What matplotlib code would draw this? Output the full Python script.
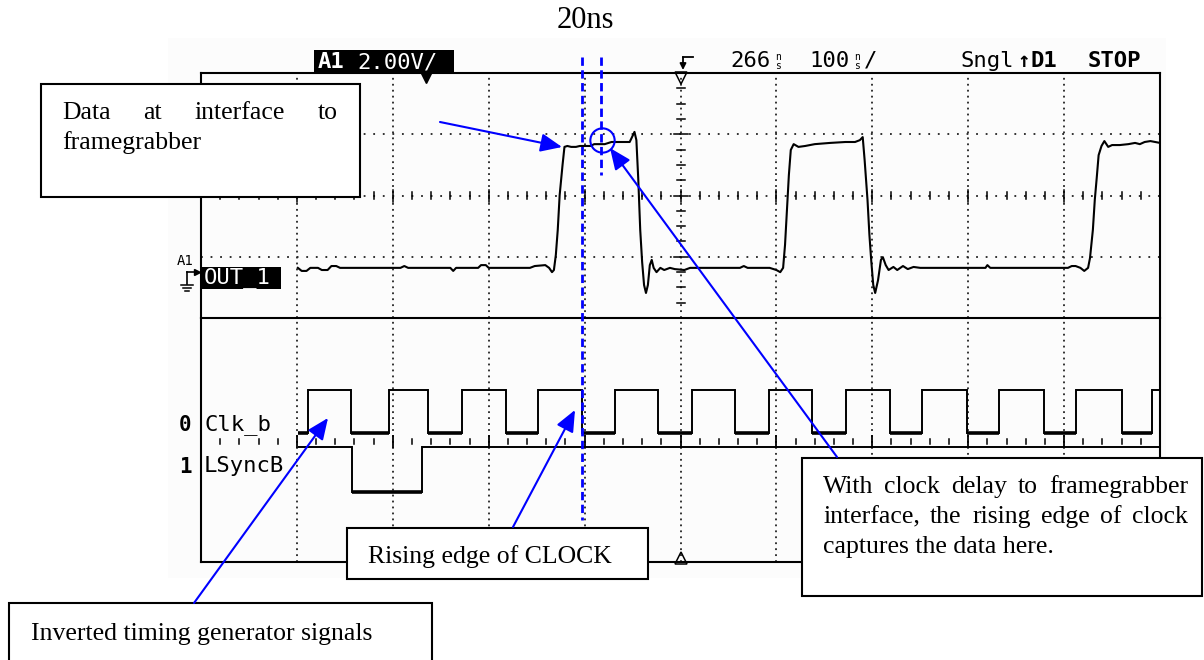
import matplotlib
matplotlib.use('Agg')
import matplotlib.pyplot as plt
from matplotlib.patches import Rectangle
from matplotlib.transforms import blended_transform_factory

# OUT_1 analog trace: time in ns from the left edge of the screen, level in volts
out1_t = [101, 105, 110, 114, 122, 126, 132, 136, 141, 145, 208, 212, 216, 260, 263, 266,
          289, 292, 297, 300, 343, 348, 359, 363, 366, 368, 370, 372, 374, 377, 379, 382,
          386, 391, 395, 406, 410, 421, 428, 447, 449, 452, 454, 456, 458, 460, 462, 464,
          466, 468, 470, 472, 475, 479, 483, 489, 494, 504, 510, 562, 566, 570, 593, 600,
          604, 607, 609, 611, 613, 615, 618, 623, 630, 640, 656, 672, 682, 687, 690, 692,
          695, 697, 699, 701, 703, 706, 709, 711, 714, 717, 722, 726, 732, 737, 743, 750,
          818, 820, 823, 904, 908, 912, 917, 921, 925, 927, 930, 932, 934, 936, 939, 942,
          946, 950, 958, 967, 974, 979, 984, 990, 995, 1000]
out1_v = [0.07, -0.03, -0.03, 0.07, 0.07, 0.0, 0.0, 0.13, 0.13, 0.07, 0.07, 0.13, 0.07, 0.07, -0.03, 0.07,
          0.07, 0.16, 0.16, 0.07, 0.07, 0.13, 0.16, 0.07, -0.07, 0.0, 0.49, 1.31, 2.45, 3.43, 4.02, 4.05,
          4.02, 4.02, 4.05, 4.05, 4.11, 4.11, 4.18, 4.18, 4.31, 4.51, 4.24, 2.94, 1.31, 0.26, -0.49, -0.75,
          -0.49, 0.16, 0.33, 0.07, -0.07, 0.07, 0.0, 0.07, 0.03, 0.0, 0.07, 0.07, 0.13, 0.07, 0.07, 0.0,
          -0.07, 0.07, 0.82, 1.96, 3.10, 3.92, 4.11, 4.02, 4.05, 4.11, 4.15, 4.18, 4.18, 4.24, 4.34, 3.59,
          2.29, 1.14, 0.26, -0.49, -0.75, -0.33, 0.33, 0.42, 0.16, 0.0, 0.10, 0.0, 0.13, 0.03, 0.10, 0.07,
          0.07, 0.16, 0.07, 0.07, 0.13, 0.13, 0.07, -0.03, 0.07, 0.39, 1.31, 2.29, 3.00, 3.75, 4.05, 4.21,
          4.02, 4.08, 4.08, 4.11, 4.15, 4.11, 4.18, 4.21, 4.18, 4.15]

# logic channels, edge times in ns
clk_rise = [112, 196, 272, 351, 432, 512, 592, 673, 752, 832, 912, 992]
clk_fall = [156, 237, 318, 397, 477, 557, 637, 718, 799, 879, 960]
lsync_rise = [230.5]
lsync_fall = [157.5]
trace_start, trace_end = 101, 1000

sample_t, sample_v = 418, 4.24   # circled sample point
edge_line_t = 397                # dashed marker on the clock edge
sample_line_t = 417              # dashed marker 20ns later

W, H = 1204, 660
serif = 'Liberation Serif'
mono = 'DejaVu Sans Mono'
blue = '#0000ff'

fig = plt.figure(figsize=(W / 100, H / 100), dpi=100)

bg = fig.add_axes([0, 0, 1, 1], zorder=0)
bg.set_xlim(0, W)
bg.set_ylim(H, 0)
bg.axis('off')
bg.add_patch(Rectangle((168, 38), 998, 540, fc='#fcfcfc', ec='none'))

# scope screen: analog pane on top, logic pane below
ax_a = fig.add_axes([201 / W, 1 - 318 / H, 959 / W, 245 / H], zorder=1)
ax_d = fig.add_axes([201 / W, 1 - 562 / H, 959 / W, 244 / H], zorder=1)
for ax in (ax_a, ax_d):
    ax.set_xlim(0, 1000)
    ax.set_facecolor('none')
    ax.set_xticks([])
    ax.set_yticks([])
    for s in ax.spines.values():
        s.set_linewidth(1.5)
ax_a.set_ylim(-1.567, 6.433)
ax_d.set_ylim(0, 4)
ax_d.spines['top'].set_visible(False)

dot_v = dict(color='#222222', lw=1.3, ls=(0, (1, 2.3)))
dot_h = dict(color='#222222', lw=1.3, ls=(0, (1, 4.3)))
for t in range(100, 1000, 100):
    ax_a.axvline(t, **dot_v)
    ax_d.axvline(t, **dot_v)
for f in (0.25, 0.5, 0.75):
    ax_a.axhline(ax_a.get_ylim()[0] + f * 8, **dot_h)

# graticule ticks on the centre axes
px_t = 1000 / 959
px_v = 8 / 245
v_mid = -1.567 + 4
for t in range(20, 1000, 20):
    h = 6 if t % 100 == 0 else 3.5
    ax_a.plot([t, t], [v_mid - h * px_v, v_mid + h * px_v], color='k', lw=1.1)
for k in range(1, 16):
    v = -1.567 + k * 0.5
    w = 7 if k % 4 == 0 else 4
    ax_a.plot([500 - w * px_t, 500 + w * px_t], [v, v], color='k', lw=1.1)

# logic pane tick row (pixel rows converted to divisions)
def ydiv(py):
    return (562 - py) / 61

for t in range(20, 1000, 20):
    if t % 100 == 0:
        ax_d.plot([t, t], [ydiv(447), ydiv(436)], color='k', lw=1.3)
    else:
        ax_d.plot([t, t], [ydiv(444), ydiv(439)], color='k', lw=1.1)

# analog trace
ax_a.plot(out1_t, out1_v, color='k', lw=1.5)
ax_a.plot(sample_t, sample_v, 'o', mfc='none', mec=blue, ms=17.5, mew=1.5)


def logic(ax, rises, falls, start_level, y_lo, y_hi):
    events = sorted([(t, 1) for t in rises] + [(t, 0) for t in falls])
    cur_t, cur = trace_start, start_level
    for t, lvl in events + [(trace_end, None)]:
        y = y_hi if cur else y_lo
        ax.plot([cur_t, t], [y, y], color='k', lw=1.4 if cur else 2.6, solid_capstyle='butt')
        if lvl is not None:
            ax.plot([t, t], [y_lo, y_hi], color='k', lw=1.4)
            cur_t, cur = t, lvl


logic(ax_d, clk_rise, clk_fall, 0, ydiv(433), ydiv(390))
logic(ax_d, lsync_rise, lsync_fall, 1, ydiv(492), ydiv(447))

# ---- overlay: scope labels and annotations in pixel units ----
ov = fig.add_axes([0, 0, 1, 1], zorder=3)
ov.set_xlim(0, W)
ov.set_ylim(H, 0)
ov.axis('off')

# header
ov.add_patch(Rectangle((314, 50), 140, 23, fc='k', ec='none'))
ov.text(318, 62, 'A1', color='w', fontsize=16, fontfamily=mono, fontweight='bold', va='center')
ov.text(357, 62, '2.00V/', color='w', fontsize=16, fontfamily=mono, va='center')
ov.plot(426, 77, marker='v', ms=9, color='k')


def unit(x, y):
    ov.text(x, y - 4, 'n', fontsize=7, fontfamily=mono, ha='center', va='center')
    ov.text(x, y + 5, 's', fontsize=7, fontfamily=mono, ha='center', va='center')


ov.text(730, 61, '266', fontsize=16, fontfamily=mono, va='center')
unit(778, 61)
ov.text(809, 61, '100', fontsize=16, fontfamily=mono, va='center')
unit(857, 61)
ov.text(864, 61, '/', fontsize=16, fontfamily=mono, va='center')
ov.text(961, 61, 'Sngl', fontsize=16, fontfamily=mono, va='center')
ov.text(1017, 61, '\u2191', fontsize=15, fontfamily=mono, fontweight='bold', va='center')
ov.text(1030, 61, 'D1', fontsize=16, fontfamily=mono, fontweight='bold', va='center')
ov.text(1088, 61, 'STOP', fontsize=16, fontfamily=mono, fontweight='bold', va='center')

# trigger marks
ov.plot([683, 693], [57, 57], color='k', lw=1.3)
ov.annotate('', xy=(683, 70), xytext=(683, 57),
            arrowprops=dict(arrowstyle='-|>', color='k', lw=1.3, mutation_scale=9, shrinkA=0, shrinkB=0))
ov.plot(681, 78, marker='v', mfc='none', mec='k', ms=8, mew=1.1)
ov.plot(681, 558, marker='^', mfc='none', mec='k', ms=8, mew=1.1)

# channel labels
ov.text(177, 261, 'A1', fontsize=10, fontfamily=mono, va='center')
ov.plot([187, 187], [272, 284], color='k', lw=1.2)
ov.plot([187, 195], [272, 272], color='k', lw=1.2)
ov.plot(197, 272, marker='>', ms=5, color='k')
for half, yy in ((6, 285), (4, 288), (2, 291)):
    ov.plot([187 - half, 187 + half], [yy, yy], color='k', lw=1.1)
ov.add_patch(Rectangle((201, 267), 80, 22, fc='k', ec='none'))
ov.text(204, 278, 'OUT_1', color='w', fontsize=16, fontfamily=mono, va='center')
ov.text(185, 425, '0', fontsize=15, fontfamily=mono, fontweight='bold', ha='center', va='center')
ov.text(204, 425, 'Clk_b', fontsize=16, fontfamily=mono, va='center')
ov.text(185, 467, '1', fontsize=15, fontfamily=mono, fontweight='bold', ha='center', va='center')
ov.text(204, 466, 'LSyncB', fontsize=16, fontfamily=mono, va='center')

# dashed timing markers, x in scope time, y in pixels
trans = blended_transform_factory(ax_a.transData, ov.transData)
ov.plot([edge_line_t, edge_line_t], [57, 520], transform=trans, color=blue, lw=2, ls=(0, (3, 1.6)))
ov.plot([sample_line_t, sample_line_t], [57, 175], transform=trans, color=blue, lw=2, ls=(0, (3, 1.6)))
ov.text(585, 21, '20ns', fontsize=22, fontfamily=serif, ha='center', va='center')

# text boxes
fs = 18.5
for x, y, w, h in ((41, 84, 319, 113), (802, 458, 400, 138), (347, 528, 301, 51), (9, 603, 423, 70)):
    ov.add_patch(Rectangle((x, y), w, h, fc='w', ec='k', lw=1.5))

renderer = fig.canvas.get_renderer()


def justify(words, x0, x1, y):
    arts = [ov.text(0, y, w, fontsize=fs, fontfamily=serif, va='baseline') for w in words]
    widths = [a.get_window_extent(renderer).width for a in arts]
    gap = (x1 - x0 - sum(widths)) / (len(words) - 1)
    x = x0
    for a, w in zip(arts, widths):
        a.set_x(x)
        x += w + gap


justify(['Data', 'at', 'interface', 'to'], 62, 338, 119)
ov.text(62, 149, 'framegrabber', fontsize=fs, fontfamily=serif, va='baseline')
justify('With clock delay to framegrabber'.split(), 823, 1188, 493)
justify('interface, the rising edge of clock'.split(), 823, 1188, 523)
ov.text(823, 553, 'captures the data here.', fontsize=fs, fontfamily=serif, va='baseline')
ov.text(368, 563, 'Rising edge of CLOCK', fontsize=fs, fontfamily=serif, va='baseline')
ov.text(31, 640, 'Inverted timing generator signals', fontsize=fs, fontfamily=serif, va='baseline')

# blue arrows
arrow = dict(arrowstyle='-|>,head_length=0.65,head_width=0.28', color=blue, lw=1.5,
             mutation_scale=20, shrinkA=0, shrinkB=0)
for tail, tip in (((440, 122), (562, 147)), ((837, 457), (610, 148)),
                  ((513, 527), (575, 410)), ((194, 603), (328, 418))):
    ov.annotate('', xy=tip, xytext=tail, arrowprops=arrow)

fig.savefig('out.png', dpi=100)
